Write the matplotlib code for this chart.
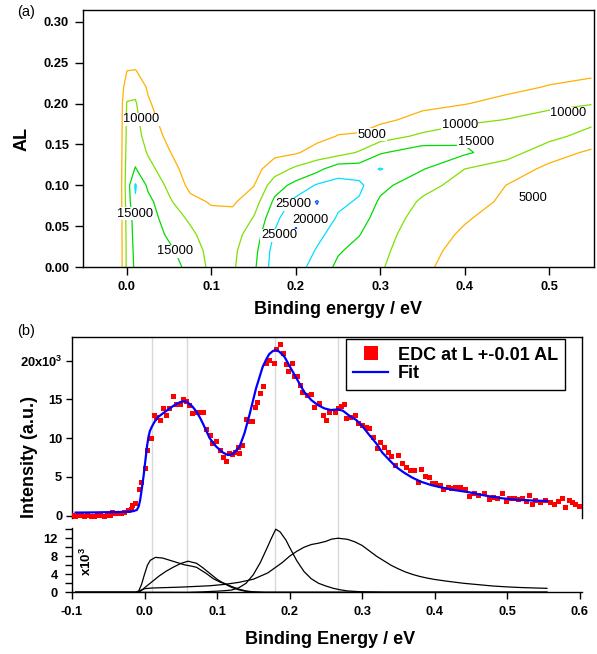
"""Two-panel ARPES figure: (a) AL vs binding-energy contour map, (b) EDC with fit and components."""

import numpy as np
import matplotlib
matplotlib.use("Agg")
import matplotlib.pyplot as plt
from matplotlib.transforms import blended_transform_factory

plt.rcParams["font.family"] = "Liberation Sans"
plt.rcParams["font.weight"] = "bold"
plt.rcParams["axes.unicode_minus"] = False
plt.rcParams["mathtext.fontset"] = "custom"
plt.rcParams["mathtext.rm"] = "Liberation Sans"
plt.rcParams["mathtext.bf"] = "Liberation Sans:bold"

# ---- panel (a): intensity map, values in thousands ----
be_grid = [-0.05, -0.01, 0.0, 0.01, 0.025, 0.05, 0.075, 0.1, 0.125, 0.15, 0.175,
           0.2, 0.225, 0.25, 0.275, 0.3, 0.35, 0.4, 0.45, 0.5, 0.55]
al_grid = [0.0, 0.02, 0.04, 0.06, 0.08, 0.10, 0.12, 0.14, 0.16, 0.18, 0.20,
           0.22, 0.24, 0.26, 0.28, 0.30]
# one list per binding-energy column, bottom (AL=0) to top (AL=0.30)
map_columns_k = [
    [0, 0, 0, 0, 0, 0, 0, 0, 0, 0, 0, 0, 0, 0, 0, 0],
    [0.5, 0.5, 0.5, 0.5, 0.5, 0.5, 0.5, 0.5, 0.5, 0.5, 0.5, 0.3, 0.2, 0, 0, 0],
    [11, 11, 11.2, 11.5, 12, 12.5, 12, 11.5, 11, 10.8, 10.3, 8, 5, 2.5, 1, 0],
    [16, 16.5, 17, 17.5, 19.5, 20.5, 15.3, 13, 12, 11.3, 10.5, 8.5, 5.2, 2.5, 1, 0],
    [17, 17.2, 17.5, 17.5, 16.5, 14, 11.5, 9.6, 8, 6.8, 5.6, 4.4, 3, 1.5, 0.5, 0],
    [16.5, 15.8, 14.3, 12.5, 10.7, 8.9, 7.2, 5.3, 3.8, 2.6, 1.8, 1.2, 0.6, 0.3, 0, 0],
    [14, 12.8, 11, 9.2, 6.2, 3.8, 2.5, 1.6, 1.1, 0.7, 0.4, 0.2, 0, 0, 0, 0],
    [8.6, 8.2, 7.5, 6.3, 4.6, 3, 2, 1.3, 0.8, 0.5, 0.3, 0, 0, 0, 0, 0],
    [9.3, 9, 8.2, 6.5, 4.3, 2.8, 2, 1.3, 0.8, 0.5, 0.3, 0, 0, 0, 0, 0],
    [14, 13.3, 12, 10.2, 7.6, 4.8, 3.3, 2.2, 1.4, 0.9, 0.5, 0.3, 0, 0, 0, 0],
    [22.5, 22, 20.5, 18.5, 16, 12.8, 7.5, 3.8, 2.4, 1.5, 1, 0.6, 0.3, 0, 0, 0],
    [22, 24, 25.3, 24.8, 21.5, 16.5, 11, 4.5, 2.5, 1.5, 1, 0.6, 0.3, 0.1, 0, 0],
    [18, 19.5, 21.5, 23.5, 25.3, 20.5, 13.5, 7, 3.5, 2, 1.2, 0.8, 0.4, 0.2, 0, 0],
    [14, 15.5, 17.5, 19.5, 21, 21.5, 18, 8, 5.2, 3, 1.8, 1.1, 0.6, 0.3, 0.1, 0],
    [12, 13.5, 15.2, 17, 19.5, 21, 17.5, 10.5, 5.5, 3.2, 2, 1.2, 0.7, 0.4, 0.2, 0],
    [10.5, 11.2, 12, 13, 14.2, 16.5, 20.3, 14.5, 7.8, 4, 2.5, 1.5, 0.9, 0.5, 0.2, 0],
    [5.8, 6.3, 7, 8, 9.3, 11.5, 15.3, 18, 11, 6.5, 3.8, 2.2, 1.3, 0.7, 0.3, 0.1],
    [3, 3.6, 4.4, 5.4, 6.8, 8.3, 10, 15.8, 14, 8.5, 4.8, 2.8, 1.6, 0.9, 0.4, 0.2],
    [1.5, 2, 2.6, 3.3, 4.2, 4.9, 7.5, 12, 14.5, 10.2, 6.5, 3.8, 2.2, 1.2, 0.6, 0.3],
    [0.8, 1, 1.3, 1.7, 2.2, 2.9, 3.9, 7, 11.5, 12.5, 8.3, 5.3, 3.2, 1.9, 1, 0.5],
    [0.5, 0.6, 0.8, 1.1, 1.5, 2, 2.8, 4.2, 8, 11.5, 9.9, 6.3, 4, 2.5, 1.4, 0.7],
]
levels = [5000, 10000, 15000, 20000, 25000]
level_colors = ["#ffb000", "#7fe000", "#00dc00", "#00e0ff", "#0050ff"]

# ---- panel (b): EDC at L +-0.01 AL ----
edc_x = [-0.100, -0.096, -0.092, -0.088, -0.083, -0.079, -0.074, -0.070, -0.065, -0.061,
         -0.056, -0.052, -0.047, -0.045, -0.041, -0.037, -0.032, -0.028, -0.023, -0.019,
         -0.017, -0.013, -0.0075, -0.0046, 0.0, 0.0041, 0.0087, 0.0124, 0.016, 0.0207,
         0.0253, 0.0299, 0.0335, 0.0395, 0.044, 0.0483, 0.0524, 0.057, 0.0615, 0.066,
         0.0705, 0.0754, 0.080, 0.0845, 0.090, 0.0935, 0.0992, 0.1038, 0.1084, 0.112,
         0.116, 0.121, 0.1245, 0.1285, 0.130, 0.135, 0.1396, 0.1445, 0.1488, 0.152,
         0.155, 0.159, 0.163, 0.168, 0.172, 0.178, 0.182, 0.187, 0.191, 0.1946,
         0.198, 0.2027, 0.2055, 0.210, 0.214, 0.2177, 0.2237, 0.2297, 0.234, 0.240,
         0.246, 0.250, 0.255, 0.262, 0.2665, 0.271, 0.2755, 0.278, 0.284, 0.290,
         0.295, 0.2995, 0.305, 0.310, 0.3145, 0.320, 0.325, 0.330, 0.336, 0.340,
         0.345, 0.350, 0.355, 0.361, 0.3665, 0.372, 0.377, 0.381, 0.387, 0.3925,
         0.397, 0.401, 0.407, 0.412, 0.418, 0.4225, 0.4275, 0.432, 0.4355, 0.4415,
         0.447, 0.454, 0.4605, 0.4675, 0.475, 0.480, 0.4866, 0.4926, 0.498, 0.503,
         0.509, 0.515, 0.5206, 0.526, 0.530, 0.534, 0.539, 0.545, 0.552, 0.559,
         0.565, 0.570, 0.576, 0.580, 0.585, 0.589, 0.594, 0.599]
edc_y = [50, 0, 80, 30, 0, 60, 20, 0, 100, 40,
         0, 150, 120, 520, 380, 300, 330, 520, 735, 860,
         1380, 1680, 3400, 4390, 6110, 8470, 9980, 12990, 12690, 12350,
         13850, 12990, 13850, 15440, 14360, 14360, 15050, 14750, 14230, 13200,
         13370, 13400, 13400, 11180, 10400, 9340, 9630, 8480, 7610, 7100,
         8130, 7900, 8260, 8820, 8130, 9110, 12430, 12170, 12200, 14060,
         14700, 15870, 16730, 19740, 20090, 19740, 21460, 22110, 20950, 19530,
         18710, 19660, 18020, 18020, 16900, 16000, 15570, 15660, 14060, 14580,
         13000, 12350, 13420, 13420, 13850, 14150, 14410, 12560, 12690, 12990,
         12000, 11700, 11400, 11280, 10110, 8690, 9550, 8820, 8260, 7700,
         6540, 7830, 6840, 6240, 5900, 5900, 4390, 6000, 5160, 5030,
         4260, 4260, 3960, 3400, 3740, 3530, 3740, 3530, 3740, 3400,
         2540, 2890, 2670, 2890, 2115, 2460, 2240, 2970, 1940, 2240,
         2240, 2115, 2240, 1940, 2670, 1510, 2030, 1810, 2030, 1810,
         1510, 1940, 2240, 1160, 2030, 1810, 1510, 1300]

fit_x = [-0.095, -0.07, -0.05, -0.03, -0.02, -0.015, -0.0106, -0.008, -0.006, -0.004,
         -0.0014, 0.0018, 0.0035, 0.0055, 0.0075, 0.0101, 0.014, 0.0193, 0.026, 0.033,
         0.041, 0.049, 0.054, 0.058, 0.061, 0.066, 0.0717, 0.077, 0.081, 0.090,
         0.099, 0.1084, 0.115, 0.122, 0.131, 0.1378, 0.1447, 0.1538, 0.163, 0.168,
         0.172, 0.177, 0.181, 0.186, 0.193, 0.2018, 0.211, 0.220, 0.230, 0.239,
         0.248, 0.257, 0.2665, 0.2735, 0.283, 0.292, 0.301, 0.310, 0.3195, 0.328,
         0.3375, 0.3465, 0.358, 0.3695, 0.381, 0.395, 0.4085, 0.4265, 0.4475, 0.4705,
         0.4935, 0.5165, 0.5395, 0.5555]
fit_y = [400, 420, 450, 480, 520, 600, 740, 1200, 2030, 3300,
         5030, 7610, 9000, 10190, 10950, 11480, 12150, 12770, 13250, 13720,
         14250, 14650, 14750, 14700, 14500, 14100, 13420, 12560, 11800, 9980,
         8900, 8130, 7830, 7960, 8900, 10630, 12990, 16430, 19220, 20200,
         20860, 21250, 21380, 21160, 20510, 19010, 17500, 16000, 14920, 14280,
         13850, 13630, 13720, 13550, 12860, 12350, 11480, 10410, 9340, 8130,
         7190, 6320, 5550, 4900, 4390, 3960, 3660, 3320, 3020, 2580,
         2240, 2030, 1940, 1900]

comp1_x = [-0.095, -0.012, -0.008, -0.004, 0.0, 0.004, 0.008, 0.015, 0.025, 0.035,
           0.045, 0.055, 0.065, 0.0717, 0.085, 0.095, 0.105, 0.11, 0.12, 0.13,
           0.14, 0.15, 0.165, 0.555]
comp1_y = [0, 0, 300, 1800, 4000, 6000, 7100, 7750, 7600, 7100,
           6600, 6100, 5800, 5550, 4200, 3000, 2200, 2000, 1300, 700,
           300, 100, 0, 0]
comp2_x = [-0.095, -0.01, -0.006, -0.002, 0.0, 0.01, 0.02, 0.03, 0.04, 0.05,
           0.06, 0.0717, 0.08, 0.09, 0.1, 0.11, 0.12, 0.13, 0.14, 0.15, 0.165, 0.555]
comp2_y = [0, 0, 200, 700, 1000, 2300, 3600, 4700, 5600, 6400,
           6900, 6440, 5500, 4200, 2900, 1900, 1100, 550, 200, 50, 0, 0]
comp3_x = [-0.095, 0.06, 0.08, 0.1, 0.11, 0.12, 0.13, 0.14, 0.15, 0.16,
           0.17, 0.175, 0.181, 0.187, 0.195, 0.2, 0.21, 0.22, 0.23, 0.24,
           0.25, 0.26, 0.27, 0.28, 0.3, 0.33, 0.555]
comp3_y = [0, 0, 100, 250, 350, 500, 1000, 2000, 3900, 6700,
           10200, 12000, 14000, 13400, 11600, 10000, 7000, 4600, 3000, 2000,
           1400, 900, 550, 300, 100, 0, 0]
comp4_x = [-0.095, -0.012, -0.008, -0.004, 0.0, 0.01, 0.03, 0.05, 0.07, 0.09,
           0.11, 0.13, 0.15, 0.17, 0.19, 0.2, 0.21, 0.22, 0.23, 0.24,
           0.25, 0.258, 0.267, 0.28, 0.29, 0.3, 0.31, 0.32, 0.33, 0.34,
           0.35, 0.36, 0.37, 0.38, 0.39, 0.4, 0.42, 0.44, 0.46, 0.48,
           0.5, 0.52, 0.54, 0.555]
comp4_y = [0, 0, 200, 550, 800, 950, 1050, 1150, 1300, 1450,
           1750, 2200, 2900, 4300, 6600, 8000, 9100, 10000, 10600, 10900,
           11300, 11800, 12000, 11750, 11200, 10400, 9200, 8000, 7000, 6000,
           5200, 4500, 3950, 3500, 3150, 2850, 2400, 2000, 1700, 1400,
           1200, 1050, 950, 880]
peak_positions = [0.011, 0.059, 0.1806, 0.2674]

W, H = 597, 654
fig = plt.figure(figsize=(W / 100, H / 100), dpi=100)


def fig_rect(left, top, right, bottom):
    return [left / W, 1 - bottom / H, (right - left) / W, (bottom - top) / H]


# ---------------- (a) ----------------
ax_a = fig.add_axes(fig_rect(83, 10, 594, 267))
Z = np.array(map_columns_k).T * 1000.0
ax_a.contour(be_grid, al_grid, Z, levels=levels, colors=level_colors, linewidths=0.9)
ax_a.set_xlim(-0.052, 0.553)
ax_a.set_ylim(0, 0.3145)
ax_a.set_xticks([0.0, 0.1, 0.2, 0.3, 0.4, 0.5])
ax_a.set_xticklabels(["0.0", "0.1", "0.2", "0.3", "0.4", "0.5"])
ax_a.set_yticks([0.0, 0.05, 0.10, 0.15, 0.20, 0.25, 0.30])
ax_a.set_yticklabels(["0.00", "0.05", "0.10", "0.15", "0.20", "0.25", "0.30"])
ax_a.tick_params(direction="out", length=6, width=1, labelsize=9.3, pad=4)
for sp in ax_a.spines.values():
    sp.set_linewidth(1)

for x, y, s in [(0.017, 0.181, "10000"), (0.0095, 0.065, "15000"), (0.057, 0.019, "15000"),
                (0.197, 0.077, "25000"), (0.2167, 0.057, "20000"), (0.180, 0.039, "25000"),
                (0.2897, 0.162, "5000"), (0.394, 0.174, "10000"), (0.413, 0.153, "15000"),
                (0.5225, 0.188, "10000"), (0.481, 0.084, "5000")]:
    ax_a.text(x, y, s, fontsize=9.3, fontweight="normal", ha="center", va="center",
              bbox=dict(fc="white", ec="none", pad=0.4))

fig.text(338.5 / W, 1 - 310 / H, "Binding energy / eV", fontsize=13, ha="center", va="center")
fig.text(22 / W, 1 - 139 / H, "AL", fontsize=13, rotation=90, ha="center", va="center")
fig.text(26 / W, 1 - 12 / H, "(a)", fontsize=10.5, fontweight="normal", ha="center", va="center")

# ---------------- (b) ----------------
ax_u = fig.add_axes(fig_rect(72, 336.7, 582, 518))
ax_l = fig.add_axes(fig_rect(72, 528.3, 582, 592.3))
for ax in (ax_u, ax_l):
    ax.set_xlim(-0.1, 0.6033)
    ax.patch.set_visible(False)
    for sp in ax.spines.values():
        sp.set_linewidth(1)

# grey guide lines through both panels
trans = blended_transform_factory(ax_u.transData, fig.transFigure)
for xv in peak_positions:
    ax_u.plot([xv, xv], [1 - 592.3 / H, 1 - 336.7 / H], transform=trans, color="#d8d8d8",
              lw=1, clip_on=False, zorder=0)

ax_u.plot(edc_x, edc_y, "s", color="red", ms=3.6, mew=0, label="EDC at L +-0.01 AL", zorder=3)
ax_u.plot(fit_x, fit_y, color="blue", lw=1.6, label="Fit", zorder=4)
ax_u.set_ylim(-300, 23100)
ax_u.spines["bottom"].set_visible(False)
ax_u.set_xticks([])
ax_u.set_yticks([0, 5000, 10000, 15000, 20000])
ax_u.set_yticklabels(["0", "5", "10", "15", "20x10$^{3}$"])
ax_u.tick_params(axis="y", direction="out", length=4, width=1, labelsize=9.3, pad=3)

leg = ax_u.legend(loc="upper right", bbox_to_anchor=(565 / W, 1 - 339.3 / H),
                  bbox_transform=fig.transFigure, fancybox=False, edgecolor="black",
                  framealpha=1, prop={"size": 13, "weight": "bold"}, handlelength=1.9,
                  handletextpad=0.55, borderpad=0.4, labelspacing=0.1, borderaxespad=0,
                  numpoints=1, markerscale=2.6)
leg.get_frame().set_linewidth(1)

for cx, cy in [(comp1_x, comp1_y), (comp2_x, comp2_y), (comp3_x, comp3_y), (comp4_x, comp4_y)]:
    ax_l.plot(cx, cy, color="black", lw=0.9)
ax_l.set_ylim(0, 14200)
ax_l.spines["top"].set_visible(False)
ax_l.spines["right"].set_visible(False)
ax_l.set_yticks([0, 4000, 8000, 12000])
ax_l.set_yticklabels(["0", "4", "8", "12"])
ax_l.set_yticks([2000, 6000, 10000, 14000], minor=True)
ax_l.set_xticks([-0.1, 0.0, 0.1, 0.2, 0.3, 0.4, 0.5, 0.6])
ax_l.set_xticklabels(["-0.1", "0.0", "0.1", "0.2", "0.3", "0.4", "0.5", "0.6"])
ax_l.tick_params(which="major", direction="out", length=5, width=1, labelsize=9.3, pad=5)
ax_l.tick_params(which="minor", direction="out", length=5, width=1)

fig.text(86 / W, 1 - 561 / H, "x10$^{3}$", fontsize=9.5, rotation=90, ha="center", va="center")
fig.text(29.5 / W, 1 - 457 / H, "Intensity (a.u.)", fontsize=13, rotation=90,
         ha="center", va="center")
fig.text(330 / W, 1 - 640 / H, "Binding Energy / eV", fontsize=13, ha="center", va="center")
fig.text(26 / W, 1 - 331 / H, "(b)", fontsize=10.5, fontweight="normal", ha="center", va="center")

fig.savefig("out.png", dpi=100)
